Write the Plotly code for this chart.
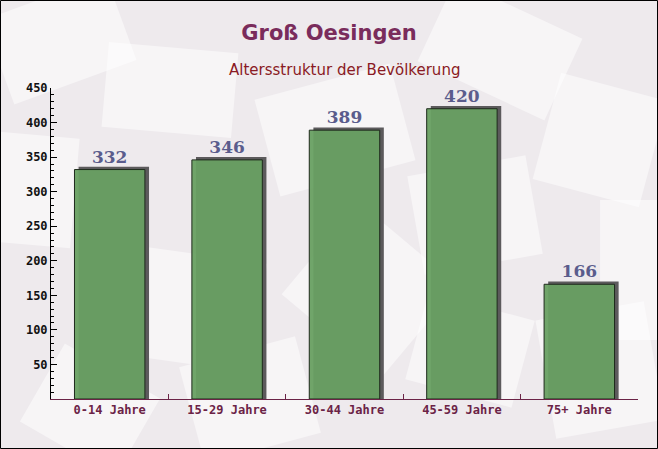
import math
import plotly.graph_objects as go

categories = ["0-14 Jahre", "15-29 Jahre", "30-44 Jahre", "45-59 Jahre", "75+ Jahre"]
values = [332, 346, 389, 420, 166]
y_ticks = [50, 100, 150, 200, 250, 300, 350, 400, 450]

W, H = 658, 449
ML, MR, MT, MB = 51, 20, 88, 50
pw, ph = W - ML - MR, H - MT - MB


def px(x, y):
    return (x - ML) / pw, 1 - (y - MT) / ph


def rot_rect(cx, cy, w, h, ang):
    a = math.radians(ang)
    pts = []
    for dx, dy in [(-w / 2, -h / 2), (w / 2, -h / 2), (w / 2, h / 2), (-w / 2, h / 2)]:
        x = cx + dx * math.cos(a) - dy * math.sin(a)
        y = cy + dx * math.sin(a) + dy * math.cos(a)
        pts.append(px(x, y))
    path = "M " + " L ".join(f"{p[0]:.4f},{p[1]:.4f}" for p in pts) + " Z"
    return dict(type="path", xref="paper", yref="paper", path=path, layer="below",
                fillcolor="rgba(255,255,255,0.5)", line=dict(width=0))


# decorative background paper sheets (cx, cy, w, h, angle)
decor = [(60, 40, 130, 90, -20), (170, 90, 130, 85, 5), (500, 50, 140, 90, 25),
         (600, 140, 110, 110, 15), (335, 130, 140, 100, -15), (475, 215, 120, 100, -10),
         (370, 290, 130, 120, 40), (200, 310, 120, 110, 8), (600, 370, 110, 120, -10),
         (90, 410, 110, 90, 30), (250, 400, 120, 100, -15), (35, 190, 80, 110, 5),
         (630, 270, 60, 140, 0), (470, 350, 110, 90, 15)]

fig = go.Figure()
# shadow
fig.add_trace(go.Bar(
    x=categories, y=[v + 4 for v in values], width=0.6, offset=-0.3 + 0.035,
    marker=dict(color="#5c5a5c", line=dict(width=0)), hoverinfo="skip", showlegend=False,
))
# main bars
fig.add_trace(go.Bar(
    x=categories, y=values, width=0.6, offset=-0.3,
    marker=dict(color="rgba(104,160,98,0.95)", line=dict(color="#1e2a1c", width=1)),
    text=[str(v) for v in values], textposition="outside", cliponaxis=False,
    textfont=dict(family="DejaVu Serif", size=17, color="#5a5c8c", weight="bold"),
    showlegend=False,
))

shapes = [rot_rect(*d) for d in decor]
x0, y1 = px(0.5, 0.5)
x1, y0 = px(W - 0.5, H - 0.5)
shapes.append(dict(type="rect", xref="paper", yref="paper", x0=x0, x1=x1, y0=y0, y1=y1,
                   line=dict(color="#000000", width=1), fillcolor="rgba(0,0,0,0)"))

fig.update_layout(
    width=W, height=H, barmode="overlay",
    margin=dict(l=ML, r=MR, t=MT, b=MB),
    paper_bgcolor="#eeeaed", plot_bgcolor="rgba(0,0,0,0)",
    title=dict(text="Groß Oesingen", x=0.5, xanchor="center", y=1 - 33 / H, yanchor="middle",
               font=dict(family="DejaVu Sans", size=21, color="#7a2c5c", weight="bold")),
    annotations=[dict(text="Altersstruktur der Bevölkerung", xref="paper", yref="paper",
                      x=0.5, y=px(0, 70)[1], xanchor="center", yanchor="middle", showarrow=False,
                      font=dict(family="DejaVu Sans", size=15, color="#8a1a24"))],
    shapes=shapes,
)
fig.update_xaxes(
    showline=True, linecolor="#6b2346", linewidth=1, tickson="boundaries",
    ticks="inside", ticklen=5, tickcolor="#6b2346", showgrid=False,
    tickfont=dict(family="DejaVu Sans Mono", size=12, color="#6b2346", weight="bold"),
    range=[-0.5, 4.5],
)
fig.update_yaxes(
    range=[0, 450], tickvals=y_ticks, showline=True, linecolor="#000000", linewidth=1,
    ticks="inside", ticklen=6, tickcolor="#000000", showgrid=False, zeroline=False,
    minor=dict(dtick=10, ticks="inside", ticklen=3, tickcolor="#000000"),
    tickfont=dict(family="DejaVu Sans Mono", size=12, color="#111111", weight="bold"),
)
fig.write_html("out.html", config={"displayModeBar": False},
               post_script="document.body.style.margin='0';document.body.style.overflow='hidden';")
